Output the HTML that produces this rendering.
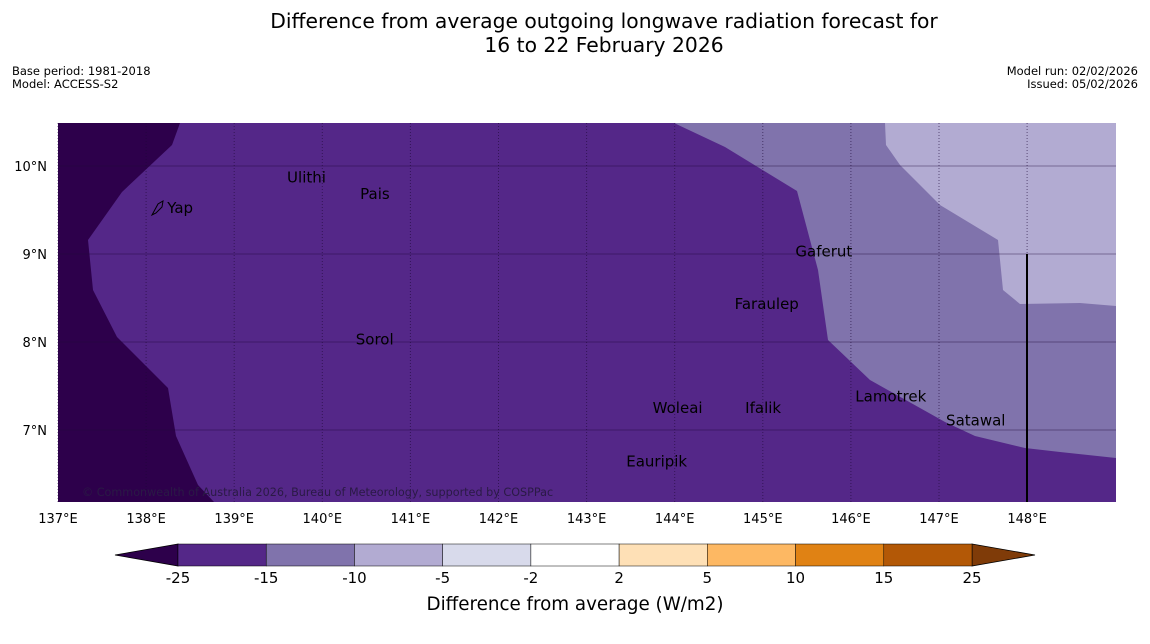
<!DOCTYPE html>
<html><head><meta charset="utf-8"><style>
body{margin:0;background:#fff;font-family:"DejaVu Sans","Liberation Sans",sans-serif;}
svg{display:block}
</style></head><body>
<svg id="c" width="1150" height="644" viewBox="0 0 1150 644" xmlns="http://www.w3.org/2000/svg">
<text x="604" y="28" text-anchor="middle" font-size="20.3">Difference from average outgoing longwave radiation forecast for</text>
<text x="604" y="52" text-anchor="middle" font-size="20.3">16 to 22 February 2026</text>
<text x="12" y="75" font-size="11.5">Base period: 1981-2018</text>
<text x="12" y="88" font-size="11.5">Model: ACCESS-S2</text>
<text x="1138" y="75" font-size="11.5" text-anchor="end">Model run: 02/02/2026</text>
<text x="1138" y="88" font-size="11.5" text-anchor="end">Issued: 05/02/2026</text>
<g id="map">
<rect x="58" y="123" width="1058" height="379" fill="#542788"/>
<polygon fill="#2d004b" points="58,123 180,123 172,145 122,192 88,240 93,290 117,337 168,388 176,436 198,485 214,502 58,502"/>
<polygon fill="#8073ac" points="674,123 1116,123 1116,458 1060,452 1025,448 975,436 945,422 870,380 828,340 818,270 797,191 725,147"/>
<polygon fill="#b2abd2" points="885,123 1116,123 1116,306 1080,303 1020,304 1003,290 998,240 940,205 900,165 886,145"/>
<g id="grid"></g>
<line x1="1027" y1="254" x2="1027" y2="502" stroke="#000" stroke-width="2"/>
<path d="M152,215 L158,204 L163,201 L162,207 L156,213 Z" fill="none" stroke="#000" stroke-width="1"/>
<g id="places" font-size="15"></g>
<text x="82" y="496" font-size="11.2" fill="#2a1a45">© Commonwealth of Australia 2026, Bureau of Meteorology, supported by COSPPac</text>
</g>
<g id="axes" font-size="13"></g>
<g id="cbar"></g>
<text x="575" y="610" text-anchor="middle" font-size="18.3">Difference from average (W/m2)</text>
</svg>
<script>
const lonTicks=[137,138,139,140,141,142,143,144,145,146,147,148];
const latTicks=[10,9,8,7];
const placeNames=["Yap","Ulithi","Pais","Gaferut","Faraulep","Sorol","Woleai","Ifalik","Lamotrek","Satawal","Eauripik"];
const placeLon=[138.24,139.6,140.43,145.37,144.68,140.38,143.75,144.8,146.05,147.08,143.45];
const placeLat=[9.52,9.87,9.68,9.03,8.43,8.03,7.25,7.25,7.38,7.11,6.64];
const cbLevels=["-25","-15","-10","-5","-2","2","5","10","15","25"];
const cbColors=["#542788","#8073ac","#b2abd2","#d8daeb","#ffffff","#fee0b6","#fdb863","#e08214","#b35806"];
const NS="http://www.w3.org/2000/svg";
const X=lon=>58+(lon-137)*88.1, Y=lat=>166+(10-lat)*88;
function mk(t,a,p){const e=document.createElementNS(NS,t);for(const k in a)e.setAttribute(k,a[k]);p.appendChild(e);return e;}
const grid=document.getElementById('grid'),axes=document.getElementById('axes');
lonTicks.forEach(l=>{const x=X(l);
 const g=mk('line',{x1:x,y1:123,x2:x,y2:502,stroke:'#1e0838','stroke-width':1,'stroke-dasharray':'1,2',opacity:0.6},grid);
 
 
 const t=mk('text',{x:x,y:523,'text-anchor':'middle'},axes);t.textContent=l+'°E';
 
 });
latTicks.forEach(l=>{const y=Y(l);
 const g=mk('line',{x1:58,y1:y,x2:1116,y2:y,stroke:'#1e0838','stroke-width':1,opacity:0.4},grid);
 
 
 const t=mk('text',{x:47,y:y+5,'text-anchor':'end'},axes);t.textContent=l+'°N';
 
 });
const pl=document.getElementById('places');
placeNames.forEach((n,i)=>{const t=mk('text',{x:X(placeLon[i]),y:Y(placeLat[i])+5},pl);t.textContent=n;
 
 });
const cb=document.getElementById('cbar');const x0=178,x1=972,w=(x1-x0)/cbColors.length;
const lt=mk('polygon',{points:`${x0},544 115,555 ${x0},566`,fill:'#2d004b',stroke:'#000','stroke-width':0.8},cb);


const rt=mk('polygon',{points:`${x1},544 1035,555 ${x1},566`,fill:'#7f3b08',stroke:'#000','stroke-width':0.8},cb);


cbColors.forEach((c,i)=>{const r=mk('rect',{x:x0+i*w,y:544,width:w,height:22,fill:c,stroke:'#000','stroke-width':0.5},cb);
 
 });
cbLevels.forEach((l,i)=>{const t=mk('text',{x:x0+i*w,y:583,'text-anchor':'middle','font-size':15},cb);t.textContent=l;
 
 });
</script>
</body></html>
